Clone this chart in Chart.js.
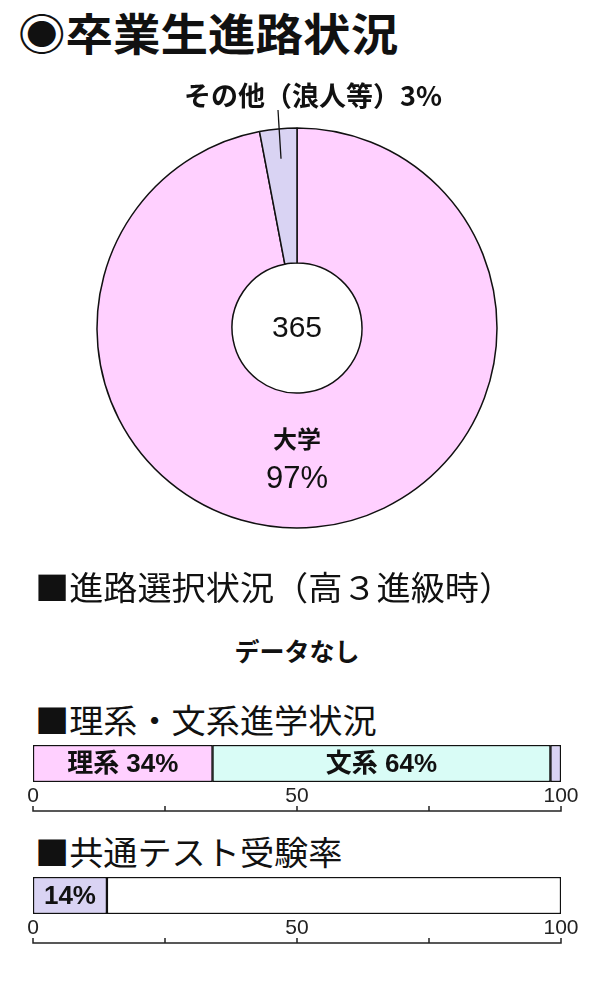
<!DOCTYPE html>
<html lang="ja">
<head>
<meta charset="utf-8">
<title>卒業生進路状況</title>
<script src="https://cdn.jsdelivr.net/npm/chart.js@4.4.1/dist/chart.umd.min.js"></script>
<style>
  html, body { margin: 0; padding: 0; background: #fff; }
  #page {
    position: relative; width: 600px; height: 1000px; overflow: hidden;
    font-family: "Noto Sans CJK JP", sans-serif; color: #111;
  }
  .txt { position: absolute; white-space: nowrap; transform-origin: 0 50%; }
  .title { left: 18px; top: 10px; font-size: 44px; line-height: 44px; font-weight: 700; transform: scaleX(1.08); }
  .head { left: 35px; font-size: 33px; line-height: 33px; font-weight: 400; transform: scaleX(1.035); }
  .nodata { left: 0; width: 594px; text-align: center; top: 636px; font-size: 25px; line-height: 28px; font-weight: 700; }
  canvas { position: absolute; left: 0; }
</style>
</head>
<body>
<div id="page">
  <div class="txt title">◉卒業生進路状況</div>
  <div id="pieBox" style="position:absolute;left:0;top:70px;width:600px;height:520px"><canvas id="pieChart"></canvas></div>

  <div class="txt head" style="top:570px">■進路選択状況（高３進級時）</div>
  <div class="txt nodata">データなし</div>

  <div class="txt head" style="top:703px">■理系・文系進学状況</div>
  <div id="splitBox" style="position:absolute;left:0;top:735px;width:600px;height:82px"><canvas id="splitChart"></canvas></div>

  <div class="txt head" style="top:835px">■共通テスト受験率</div>
  <div id="testBox" style="position:absolute;left:0;top:867px;width:600px;height:82px"><canvas id="testChart"></canvas></div>
</div>

<script>
// Graduates' destinations (doughnut)
const pieLabels = ['大学', 'その他（浪人等）'];
const pieValues = [97, 3];
const pieColors = ['#FFD0FF', '#D9D3F3'];
const totalGraduates = 365;

// Science / humanities split (stacked bar)
const splitLabels = ['理系', '文系', 'その他'];
const splitValues = [34, 64, 2];
const splitColors = ['#FFD0FF', '#D9FCF6', '#D9D3F3'];
const splitShown = [true, true, false];

// Common test participation (stacked bar)
const testLabels = ['受験', '未受験'];
const testValues = [14, 86];
const testColors = ['#D9D3F3', '#FFFFFF'];
const testShown = [true, false];

// Axis labels under the bars
const axisTicks = [0, 50, 100];

const LATIN = '"Liberation Sans", "Noto Sans CJK JP", sans-serif';

// Text inside the doughnut plus the leader label for the small slice
const pieText = {
  id: 'pieText',
  afterDatasetsDraw(chart) {
    const ctx = chart.ctx;
    const arcs = chart.getDatasetMeta(0).data;
    const big = arcs[0];
    const cx = big.x, cy = big.y;
    ctx.save();
    ctx.fillStyle = '#111';
    ctx.textAlign = 'center';
    ctx.textBaseline = 'middle';

    ctx.font = '400 30px ' + LATIN;
    ctx.fillText(String(totalGraduates), cx, cy + 1);

    const mid = (big.innerRadius + big.outerRadius) / 2;
    ctx.font = '700 24px "Noto Sans CJK JP", sans-serif';
    ctx.fillText(pieLabels[0], cx, cy + mid - 22);
    ctx.font = '400 31px ' + LATIN;
    ctx.fillText(pieValues[0] + '%', cx, cy + mid + 19);

    // small slice: leader line up to the label
    const small = arcs[1];
    const a = (small.startAngle + small.endAngle) / 2;
    const r = small.outerRadius * 0.85;
    const x0 = cx + Math.cos(a) * r, y0 = cy + Math.sin(a) * r;
    const y1 = cy - small.outerRadius - 18;
    ctx.strokeStyle = '#111';
    ctx.lineWidth = 1.3;
    ctx.beginPath();
    ctx.moveTo(x0, y0);
    ctx.lineTo(x0 - 3, y1);
    ctx.stroke();
    ctx.font = '700 27px "Noto Sans CJK JP", sans-serif';
    ctx.fillText('その他（浪人等）' + pieValues[1] + '%', x0 + 32, y1 - 14);
    ctx.restore();
  }
};

new Chart(document.getElementById('pieChart'), {
  type: 'doughnut',
  data: {
    labels: pieLabels,
    datasets: [{
      data: pieValues,
      backgroundColor: pieColors,
      borderColor: '#111',
      borderWidth: 1.5
    }]
  },
  options: {
    responsive: true,
    maintainAspectRatio: false,
    animation: false,
    radius: 200,
    cutout: '32.5%',
    layout: { padding: { left: 0, right: 6, top: 0, bottom: 4 } },
    plugins: { legend: { display: false }, tooltip: { enabled: false } }
  },
  plugins: [pieText]
});

// Labels in bar segments, and an axis line drawn under the tick labels
const barText = {
  id: 'barText',
  afterDatasetsDraw(chart) {
    const ctx = chart.ctx;
    ctx.save();
    ctx.fillStyle = '#111';
    ctx.textAlign = 'center';
    ctx.textBaseline = 'middle';
    ctx.font = '700 26px ' + LATIN;
    chart.data.datasets.forEach((ds, i) => {
      if (!ds.text) return;
      const bar = chart.getDatasetMeta(i).data[0];
      ctx.fillText(ds.text, (bar.x + bar.base) / 2, bar.y + 1);
    });
    ctx.restore();
  },
  afterDraw(chart) {
    const sx = chart.scales.x;
    const ctx = chart.ctx;
    const y = sx.bottom;
    ctx.save();
    ctx.strokeStyle = '#222';
    ctx.lineWidth = 1.5;
    ctx.beginPath();
    ctx.moveTo(sx.left - 0.75, y);
    ctx.lineTo(sx.right + 0.75, y);
    sx.ticks.forEach(t => {
      const x = sx.getPixelForValue(t.value);
      ctx.moveTo(x, y);
      ctx.lineTo(x, y - 5);
    });
    ctx.stroke();
    ctx.restore();
  }
};

function makeBar(id, labels, values, colors, shown) {
  new Chart(document.getElementById(id), {
    type: 'bar',
    data: {
      labels: [''],
      datasets: labels.map((name, i) => ({
        label: name,
        data: [values[i]],
        text: shown[i] ? (id === 'splitChart' ? name + ' ' : '') + values[i] + '%' : '',
        backgroundColor: colors[i],
        borderColor: '#111',
        borderWidth: 1.5,
        borderSkipped: false,
        barPercentage: 1,
        categoryPercentage: 1
      }))
    },
    options: {
      indexAxis: 'y',
      responsive: true,
      maintainAspectRatio: false,
      animation: false,
      layout: { padding: { left: 33, right: 39, top: 10, bottom: 6 } },
      plugins: { legend: { display: false }, tooltip: { enabled: false } },
      scales: {
        x: {
          stacked: true,
          min: 0,
          max: 100,
          grid: { display: false, drawTicks: false },
          border: { display: false },
          afterFit: s => { s.height = 29; },
          ticks: {
            stepSize: 25,
            autoSkip: false,
            maxRotation: 0,
            padding: 2,
            color: '#222',
            font: { family: LATIN, size: 21, weight: '300' },
            callback: v => axisTicks.includes(v) ? v : ''
          }
        },
        y: { stacked: true, display: false }
      }
    },
    plugins: [barText]
  });
}

makeBar('splitChart', splitLabels, splitValues, splitColors, splitShown);
makeBar('testChart', testLabels, testValues, testColors, testShown);
</script>
</body>
</html>
